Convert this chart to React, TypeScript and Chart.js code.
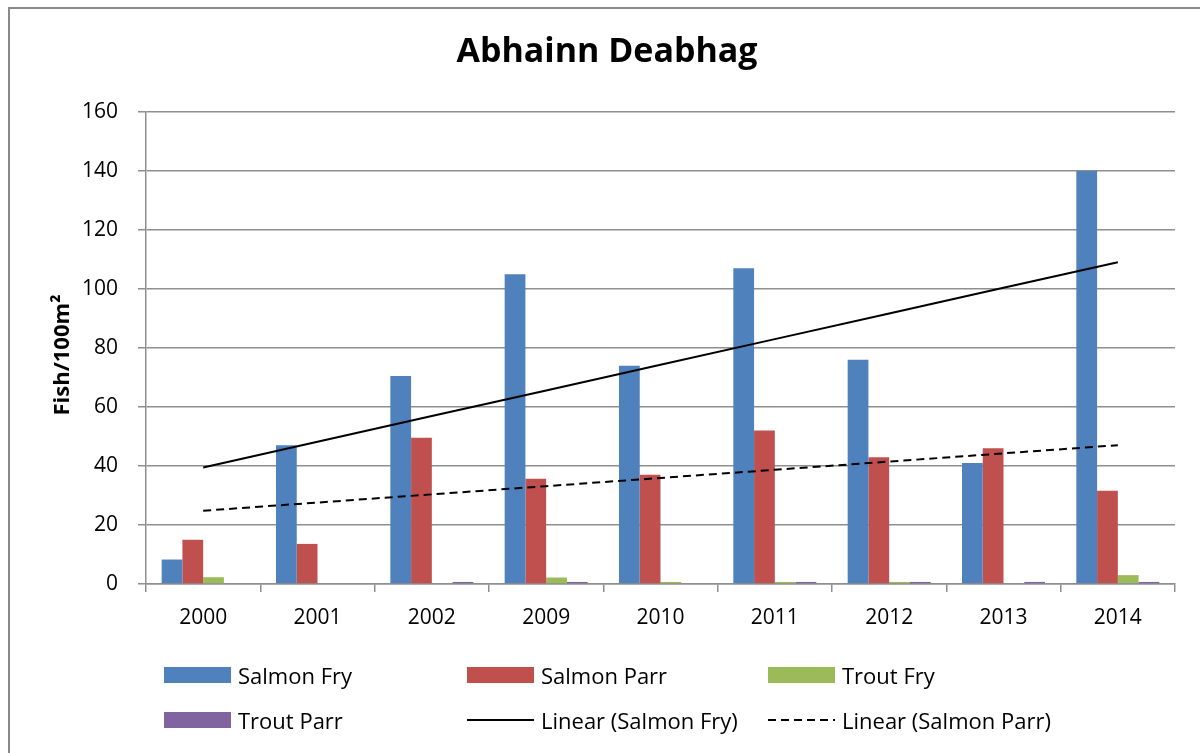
import React, { useEffect, useRef } from "react";
import { Chart, registerables } from "chart.js";

Chart.register(...registerables);

const FONT = "'Open Sans', 'Noto Sans', sans-serif";

const chartTitle = "Abhainn Deabhag";
const yAxisTitle = "Fish/100m²";
const categories = ["2000", "2001", "2002", "2009", "2010", "2011", "2012", "2013", "2014"];
const salmonFry = [8.3, 47, 70.5, 105, 74, 107, 76, 41, 140];
const salmonParr = [15, 13.6, 49.6, 35.7, 37, 52, 43, 46, 31.6];
const troutFry = [2.3, 0, 0, 2.2, 0.7, 0.7, 0.7, 0, 3];
const troutParr = [0, 0, 0.7, 0.7, 0, 0.7, 0.7, 0.7, 0.7];
const yMin = 0;
const yMax = 160;
const yStep = 20;

const barLabels = ["Salmon Fry", "Salmon Parr", "Trout Fry", "Trout Parr"];
const barColors = ["#4F81BD", "#C0504D", "#9BBB59", "#8064A2"];
const trendLabels = ["Linear (Salmon Fry)", "Linear (Salmon Parr)"];

function linearTrend(values: number[]): number[] {
  const n = values.length;
  const xm = (n - 1) / 2;
  const ym = values.reduce((a, b) => a + b, 0) / n;
  let num = 0;
  let den = 0;
  values.forEach((v, i) => {
    num += (i - xm) * (v - ym);
    den += (i - xm) * (i - xm);
  });
  const slope = num / den;
  return values.map((_, i) => ym + slope * (i - xm));
}

const W = 1200;
const H = 753;
const AREA_LEFT = 146;
const AREA_RIGHT = 1175;
const AREA_TOP = 112;
const AREA_BOTTOM = 584;
const X_AXIS_H = 60;
const GRID = "#8f8f8f";

export default function App() {
  const ref = useRef<HTMLCanvasElement | null>(null);

  useEffect(() => {
    if (!ref.current) return;
    const barSeries = [salmonFry, salmonParr, troutFry, troutParr];
    const chart = new Chart(ref.current, {
      type: "bar",
      data: {
        labels: categories,
        datasets: [
          {
            type: "line",
            label: trendLabels[0],
            data: linearTrend(salmonFry),
            borderColor: "#000",
            borderWidth: 2,
            pointRadius: 0,
            fill: false,
            order: 0,
          } as any,
          {
            type: "line",
            label: trendLabels[1],
            data: linearTrend(salmonParr),
            borderColor: "#000",
            borderWidth: 2,
            borderDash: [8, 5],
            pointRadius: 0,
            fill: false,
            order: 0,
          } as any,
          ...barSeries.map((d, i) => ({
            type: "bar",
            label: barLabels[i],
            data: d,
            backgroundColor: barColors[i],
            borderWidth: 0,
            categoryPercentage: 0.726,
            barPercentage: 1,
            order: 1,
          })),
        ],
      },
      options: {
        responsive: false,
        animation: false,
        layout: {
          padding: {
            left: 0,
            top: AREA_TOP,
            right: W - AREA_RIGHT,
            bottom: H - AREA_BOTTOM - X_AXIS_H,
          },
        },
        plugins: {
          legend: { display: false },
          title: { display: false },
          tooltip: { enabled: false },
        },
        scales: {
          x: {
            type: "category",
            offset: true,
            grid: {
              offset: true,
              drawOnChartArea: false,
              drawTicks: true,
              tickLength: 8,
              color: GRID,
              lineWidth: 1.5,
            },
            border: { color: GRID, width: 1.5 },
            ticks: {
              color: "#000",
              font: { family: FONT, size: 21 },
              padding: 13,
              maxRotation: 0,
            },
            afterFit: (s: any) => {
              s.height = X_AXIS_H;
            },
          },
          y: {
            min: yMin,
            max: yMax,
            grid: {
              color: GRID,
              lineWidth: 1.5,
              tickLength: 8,
            },
            border: { color: GRID, width: 1.5 },
            ticks: {
              stepSize: yStep,
              color: "#000",
              font: { family: FONT, size: 21 },
              padding: 20,
            },
            afterFit: (s: any) => {
              s.width = AREA_LEFT;
            },
          },
        },
      },
    });
    return () => chart.destroy();
  }, []);

  const legendItems = [
    { kind: "box", label: barLabels[0], color: barColors[0] },
    { kind: "box", label: barLabels[1], color: barColors[1] },
    { kind: "box", label: barLabels[2], color: barColors[2] },
    { kind: "box", label: barLabels[3], color: barColors[3] },
    { kind: "solid", label: trendLabels[0], color: "#000" },
    { kind: "dash", label: trendLabels[1], color: "#000" },
  ];
  const colX = [164, 467, 768];
  const rowY = [675, 720];

  return (
    <div
      style={{
        position: "absolute",
        left: 0,
        top: 0,
        width: W,
        height: H,
        background: "#fff",
        overflow: "hidden",
        fontFamily: FONT,
      }}
    >
      <div
        style={{
          position: "absolute",
          left: 8,
          top: 7,
          width: W + 20,
          height: H + 20,
          borderTop: "2px solid #8a8a8a",
          borderLeft: "2px solid #8a8a8a",
          boxSizing: "border-box",
        }}
      />
      <canvas
        ref={ref}
        width={W}
        height={H}
        style={{ position: "absolute", left: 0, top: 0, width: W, height: H }}
      />
      <div
        style={{
          position: "absolute",
          left: 0,
          top: 29,
          width: 1214,
          textAlign: "center",
          fontSize: 34,
          fontWeight: 700,
          lineHeight: "40px",
          color: "#000",
        }}
      >
        {chartTitle}
      </div>
      <div
        style={{
          position: "absolute",
          left: 60 - 100,
          top: 355 - 15,
          width: 200,
          height: 30,
          lineHeight: "30px",
          textAlign: "center",
          fontSize: 22,
          fontWeight: 700,
          transform: "rotate(-90deg)",
          color: "#000",
        }}
      >
        {yAxisTitle}
      </div>
      {legendItems.map((it, i) => {
        const x = colX[i % 3];
        const y = rowY[Math.floor(i / 3)];
        return (
          <div key={i}>
            {it.kind === "box" ? (
              <div
                style={{
                  position: "absolute",
                  left: x,
                  top: y - 8,
                  width: 67,
                  height: 16,
                  background: it.color,
                }}
              />
            ) : (
              <svg
                style={{ position: "absolute", left: x, top: y - 5 }}
                width={67}
                height={10}
              >
                <line
                  x1={0}
                  y1={5}
                  x2={67}
                  y2={5}
                  stroke={it.color}
                  strokeWidth={2}
                  strokeDasharray={it.kind === "dash" ? "8 5" : undefined}
                />
              </svg>
            )}
            <div
              style={{
                position: "absolute",
                left: x + 74,
                top: y - 16,
                height: 32,
                lineHeight: "32px",
                fontSize: 22,
                color: "#000",
                whiteSpace: "nowrap",
              }}
            >
              {it.label}
            </div>
          </div>
        );
      })}
    </div>
  );
}
